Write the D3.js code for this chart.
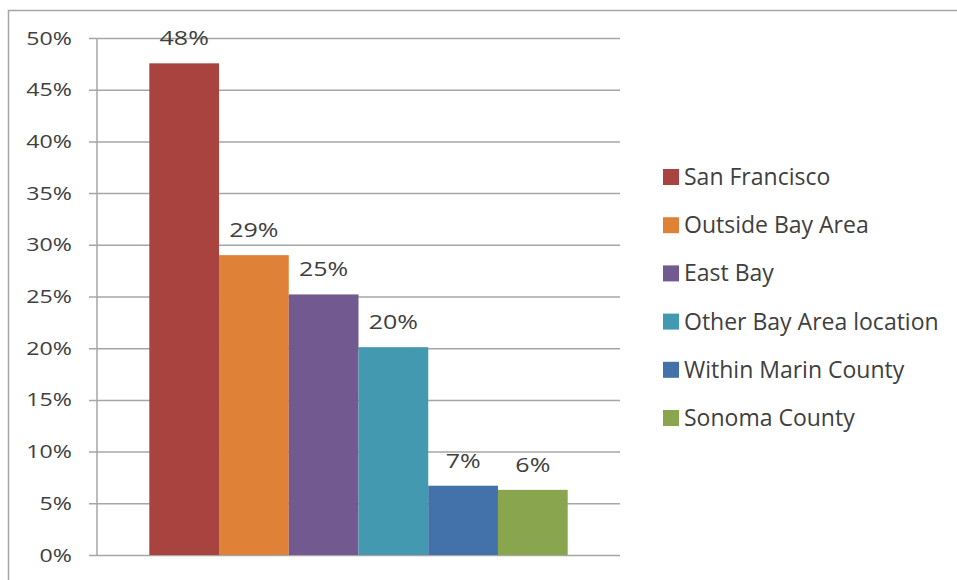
<!DOCTYPE html>
<html>
<head>
<meta charset="utf-8">
<script src="https://cdn.jsdelivr.net/npm/d3@7"></script>
<style>
  html, body { margin: 0; padding: 0; background: #fff; }
  svg text { font-family: "Open Sans", "Noto Sans", sans-serif; fill: #404040; }
</style>
</head>
<body>
<svg id="chart" width="957" height="580"></svg>
<script>
// Where respondents come from (share of respondents)
const seriesNames = ["San Francisco", "Outside Bay Area", "East Bay", "Other Bay Area location", "Within Marin County", "Sonoma County"];
const seriesValues = [0.4755, 0.29, 0.252, 0.201, 0.067, 0.063];
const seriesColors = ["#A84340", "#DF8237", "#72598F", "#4399B0", "#4371A9", "#89A54E"];
const yTicks = [0, 0.05, 0.10, 0.15, 0.20, 0.25, 0.30, 0.35, 0.40, 0.45, 0.50];

const svg = d3.select("#chart");
const pct = d3.format(".0%");

// outer chart frame (open on the right and bottom)
svg.append("rect")
  .attr("x", 8.5).attr("y", 10.5)
  .attr("width", 1000).attr("height", 1000)
  .attr("fill", "none").attr("stroke", "#a6a6a6").attr("stroke-width", 1.5);

const plot = { left: 97, right: 620, top: 38, bottom: 555 };

const y = d3.scaleLinear().domain([0, 0.5]).range([plot.bottom, plot.top]);
const x = d3.scaleBand().domain(seriesNames)
  .range([plot.left, plot.right]).paddingInner(0).paddingOuter(0.75);

// gridlines with tick stubs, and the y axis labels
const yAxis = d3.axisLeft(y).tickValues(yTicks).tickFormat(pct)
  .tickSize(-(plot.right - plot.left));
const gy = svg.append("g").attr("transform", `translate(${plot.left},0)`).call(yAxis);
gy.select(".domain").remove();
gy.selectAll(".tick line").attr("stroke", "#a6a6a6").attr("stroke-width", 1.5)
  .attr("x1", -8);
gy.selectAll(".tick text")
  .attr("x", null)
  .attr("transform", "translate(-25,0) scale(1.22,1)")
  .attr("font-size", 19).attr("fill", "#404040")
  .style("font-family", "'Open Sans', sans-serif");

// vertical axis line
svg.append("line")
  .attr("x1", plot.left).attr("x2", plot.left)
  .attr("y1", plot.top).attr("y2", plot.bottom)
  .attr("stroke", "#a6a6a6").attr("stroke-width", 1.5);

// bars
svg.append("g").selectAll("rect")
  .data(seriesNames)
  .join("rect")
  .attr("x", d => x(d))
  .attr("width", x.bandwidth())
  .attr("y", (d, i) => y(seriesValues[i]))
  .attr("height", (d, i) => y(0) - y(seriesValues[i]))
  .attr("fill", (d, i) => seriesColors[i]);

// value labels above bars
svg.append("g").selectAll("text")
  .data(seriesNames)
  .join("text")
  .attr("transform", (d, i) =>
    `translate(${x(d) + x.bandwidth() / 2},${y(seriesValues[i]) - 18}) scale(1.25,1)`)
  .attr("text-anchor", "middle")
  .attr("font-size", 20)
  .text((d, i) => pct(seriesValues[i]));

// legend
const legend = svg.append("g").attr("transform", "translate(663,177)");
const rows = legend.selectAll("g")
  .data(seriesNames)
  .join("g")
  .attr("transform", (d, i) => `translate(0,${i * 48.2})`);
rows.append("rect")
  .attr("x", 0).attr("y", -8).attr("width", 16).attr("height", 16)
  .attr("fill", (d, i) => seriesColors[i]);
rows.append("text")
  .attr("x", 21).attr("y", 0).attr("dy", "0.35em")
  .attr("font-size", 23)
  .text(d => d);
</script>
</body>
</html>
